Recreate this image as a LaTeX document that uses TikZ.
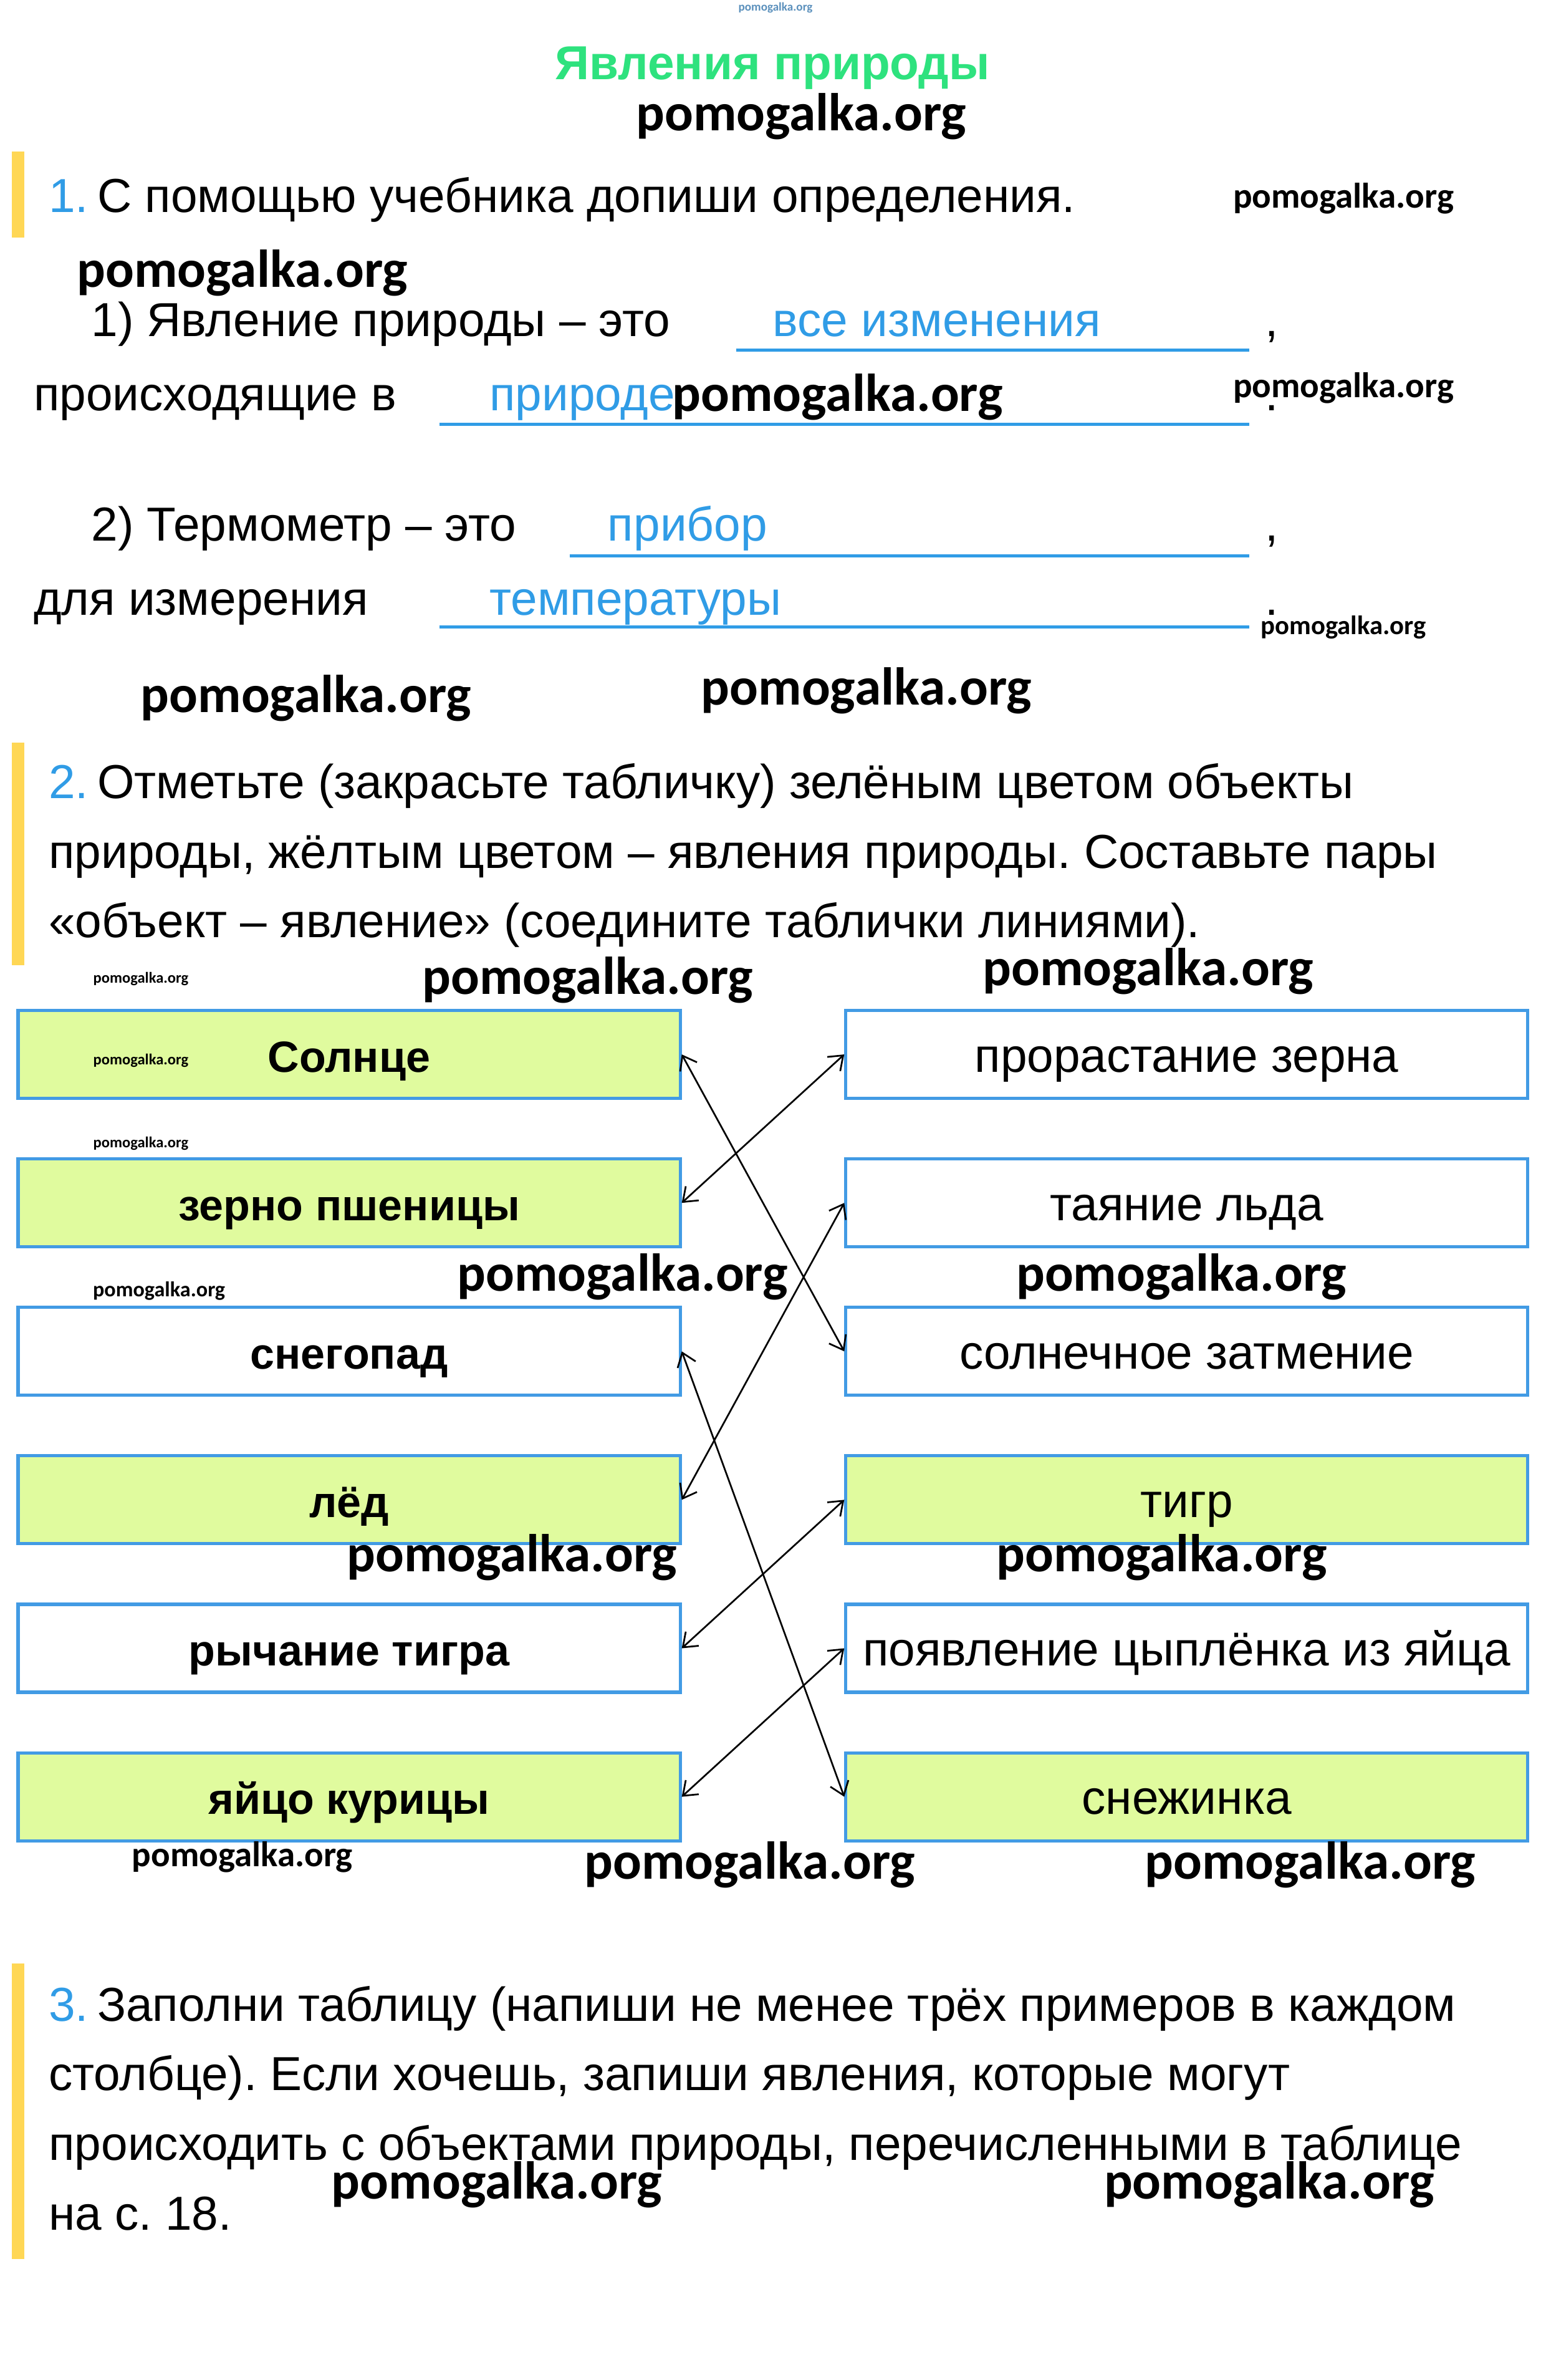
\documentclass[tikz,border=0pt]{standalone}
\usepackage{fontspec}
\setmainfont{Liberation Sans}
\newfontfamily\wmfont{Carlito}
\usepackage{xcolor}
\usetikzlibrary{arrows.meta}

\definecolor{titlegreen}{RGB}{46,226,126}
\definecolor{answerblue}{RGB}{48,156,230}
\definecolor{boxblue}{RGB}{66,155,228}
\definecolor{boxgreen}{RGB}{224,251,158}
\definecolor{baryellow}{RGB}{255,215,85}
\newcommand{\bodysize}{\fontsize{22.4}{27}\selectfont}
\newcommand{\objsize}{\fontsize{20.5}{25}\selectfont\bfseries}
\frenchspacing

\begin{document}
\begin{tikzpicture}[x=0.025cm, y=-0.025cm,
    >={Straight Barb[length=6pt,width=9pt]},
    txt/.style={anchor=base west, inner sep=0pt, font=\bodysize},
    ans/.style={txt, text=answerblue},
    blank/.style={draw=answerblue, line width=1.4pt},
    bar/.style={fill=baryellow},
    wm/.style={inner sep=0pt, font=\wmfont\bfseries\fontsize{#1}{#1}\selectfont},
    card/.style={draw=boxblue, line width=1.5pt, minimum width=10.925cm, minimum height=1.45cm, inner sep=0pt, text height=21pt, text depth=4.5pt, font=\bodysize},
    obj/.style={card, fill=boxgreen, font=\objsize},
    plain/.style={card, fill=white, font=\objsize},
    event/.style={card, minimum width=11.25cm},
    link/.style={<->, line width=0.8pt}]
    \useasboundingbox (0,0) rectangle (1024,1571);

    % Title
    \node[wm=5.6, text=boxblue!60!gray] (wm0) at (512,5) {pomogalka.org};
    \node[font=\fontsize{22.4}{27}\selectfont\bfseries, text=titlegreen] (title) at (510,45) {Явления природы};
    \node[wm=25] (wm1) at (529,77) {pomogalka.org};

    % Task 1
    \fill[bar] (8,100) rectangle (16,157);
    \node[ans] (n1) at (32,140) {1.};
    \node[txt] (t1) at (64,140) {С помощью учебника допиши определения.};
    \node[wm=16.7] (wm2) at (887,131) {pomogalka.org};
    \node[wm=25] (wm3) at (160,180) {pomogalka.org};

    \node[txt] (d1a) at (60,222) {1) Явление природы – это};
    \draw[blank] (486,231) -- (825,231);
    \node[ans] (a1) at (510,222) {все изменения};
    \node[txt] (c1) at (835,222) {,};
    \node[txt] (d1b) at (22,271) {происходящие в};
    \draw[blank] (290,280) -- (825,280);
    \node[ans] (a2) at (323,271) {природе};
    \node[wm=25] (wm4) at (553,262) {pomogalka.org};
    \node[txt] (c2) at (835,271) {.};
    \node[wm=16.7] (wm5) at (887,256) {pomogalka.org};

    \node[txt] (d2a) at (60,357) {2) Термометр – это};
    \draw[blank] (376,367) -- (825,367);
    \node[ans] (a3) at (401,357) {прибор};
    \node[txt] (c3) at (835,357) {,};
    \node[txt] (d2b) at (22,406) {для измерения};
    \draw[blank] (290,414) -- (825,414);
    \node[ans] (a4) at (323,406) {температуры};
    \node[txt] (c4) at (835,406) {.};
    \node[wm=12.5] (wm6) at (887,414) {pomogalka.org};
    \node[wm=25] (wm7) at (202,461) {pomogalka.org};
    \node[wm=25] (wm8) at (572,456) {pomogalka.org};

    % Task 2
    \fill[bar] (8,490) rectangle (16,637);
    \node[ans] (n2) at (32,527) {2.};
    \node[txt] (t2a) at (64,527) {Отметьте (закрасьте табличку) зелёным цветом объекты};
    \node[txt] (t2b) at (32,573) {природы, жёлтым цветом – явления природы. Составьте пары};
    \node[txt] (t2c) at (32,619) {«объект – явление» (соедините таблички линиями).};
    \node[wm=7.2] (wm9) at (93,646) {pomogalka.org};
    \node[wm=25] (wm10) at (388,647) {pomogalka.org};
    \node[wm=25] (wm11) at (758,641) {pomogalka.org};

    % Objects (left)
    \node[obj] (sun) at (230.5,696) {Солнце};
    \node[obj] (grain) at (230.5,794) {зерно пшеницы};
    \node[plain] (snowfall) at (230.5,892) {снегопад};
    \node[obj] (ice) at (230.5,990) {лёд};
    \node[plain] (roar) at (230.5,1088) {рычание тигра};
    \node[obj] (egg) at (230.5,1186) {яйцо курицы};

    % Phenomena (right)
    \node[event] (sprout) at (783.5,696) {прорастание зерна};
    \node[event] (melt) at (783.5,794) {таяние льда};
    \node[event] (eclipse) at (783.5,892) {солнечное затмение};
    \node[event, fill=boxgreen] (tiger) at (783.5,990) {тигр};
    \node[event] (chick) at (783.5,1088) {появление цыплёнка из яйца};
    \node[event, fill=boxgreen] (flake) at (783.5,1186) {снежинка};

    \node[wm=7.2] (wm12) at (93,700) {pomogalka.org};
    \node[wm=7.2] (wm13) at (93,755) {pomogalka.org};
    \node[wm=10] (wm14) at (105,852) {pomogalka.org};
    \node[wm=25] (wm15) at (411,843) {pomogalka.org};
    \node[wm=25] (wm16) at (780,843) {pomogalka.org};
    \node[wm=25] (wm17) at (338,1028) {pomogalka.org};
    \node[wm=25] (wm18) at (767,1028) {pomogalka.org};
    \node[wm=16.7] (wm19) at (160,1226) {pomogalka.org};
    \node[wm=25] (wm20) at (495,1231) {pomogalka.org};
    \node[wm=25] (wm21) at (865,1231) {pomogalka.org};

    % Pairs
    \draw[link] (sun.east) -- (eclipse.west);
    \draw[link] (grain.east) -- (sprout.west);
    \draw[link] (snowfall.east) -- (flake.west);
    \draw[link] (ice.east) -- (melt.west);
    \draw[link] (roar.east) -- (tiger.west);
    \draw[link] (egg.east) -- (chick.west);

    % Task 3
    \fill[bar] (8,1296) rectangle (16,1491);
    \node[ans] (n3) at (32,1334) {3.};
    \node[txt] (t3a) at (64,1334) {Заполни таблицу (напиши не менее трёх примеров в каждом};
    \node[txt] (t3b) at (32,1380) {столбце). Если хочешь, запиши явления, которые могут};
    \node[txt] (t3c) at (32,1426) {происходить с объектами природы, перечисленными в таблице};
    \node[txt] (t3d) at (32,1472) {на с. 18.};
    \node[wm=25] (wm22) at (328,1442) {pomogalka.org};
    \node[wm=25] (wm23) at (838,1442) {pomogalka.org};
\end{tikzpicture}
\end{document}
